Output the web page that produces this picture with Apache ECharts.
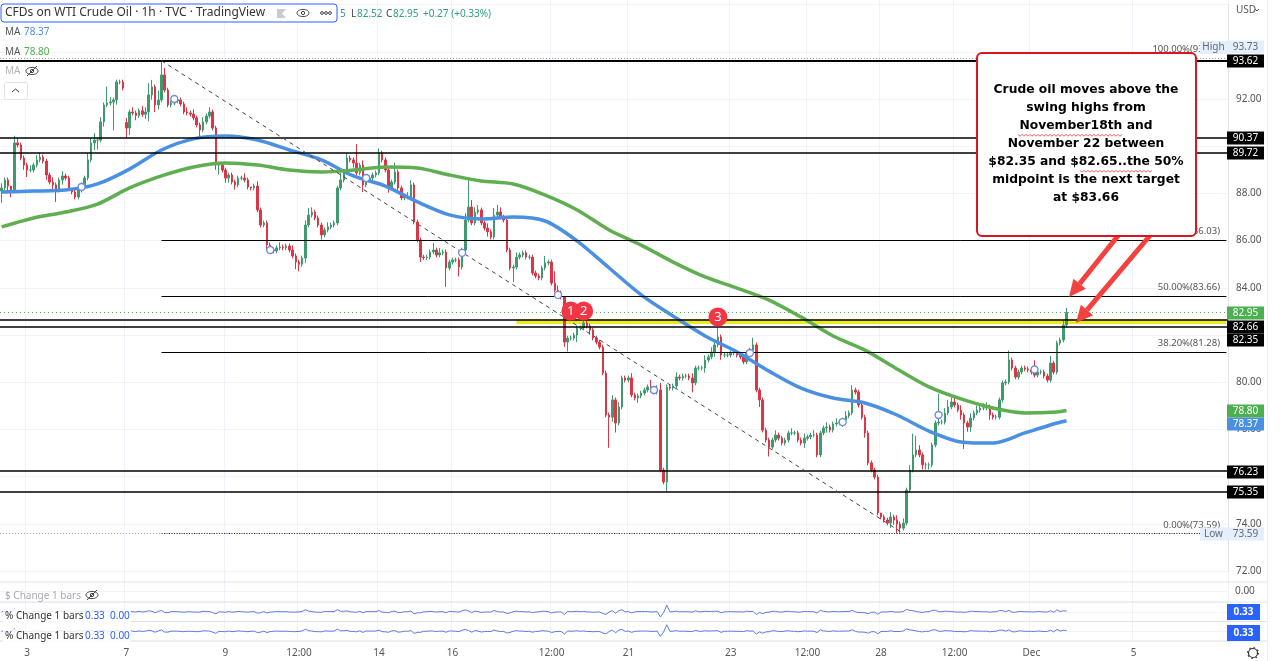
<!DOCTYPE html>
<html>
<head>
<meta charset="utf-8">
<style>html,body{margin:0;padding:0;background:#fff}#chart{width:1280px;height:661px}</style>
<script src="https://cdn.jsdelivr.net/npm/echarts@6/dist/echarts.min.js"></script>
</head>
<body>
<div id="chart"></div>
<script>
// hourly closes, 25 bars per row (each row is about 80px of chart)
var closes = [
88.23,88.57,88.31,88.14,90.14,90.05,89.5,89.2,88.99,88.99,89.2,89.42,89.54,89.37,88.78,88.48,88.36,88.14,88.57,88.74,88.65,88.23,88.06,87.85,88.14,
88.36,88.65,89.42,90.14,90.26,90.26,91.03,91.75,91.83,91.87,91.96,92.72,92.72,92.47,90.77,91.45,91.41,91.3,91.5,91.35,91.45,92.17,92.51,91.75,91.96,
93.02,92.38,91.75,91.83,91.92,91.96,91.79,91.45,91.41,91.36,91.2,90.9,90.69,91.03,91.28,91.45,90.77,89.2,89.2,88.99,88.65,88.78,88.48,88.36,88.65,
88.65,88.57,88.27,88.23,88.31,87.3,86.66,86.75,85.81,85.6,85.56,85.69,85.73,85.69,85.77,85.6,85.35,85.09,85.0,85.26,86.66,87.08,87.21,86.96,86.66,
86.24,86.45,86.58,86.66,86.75,88.23,88.57,88.91,89.5,89.42,89.29,88.87,89.2,88.36,88.57,88.65,88.78,88.87,89.71,89.42,88.99,88.23,88.48,88.91,88.23,
87.81,87.85,87.85,88.36,86.79,86.03,85.3,85.28,85.3,85.52,85.6,85.39,85.48,85.52,84.84,85.09,85.18,85.18,84.88,85.6,86.87,87.42,86.75,87.21,87.3,
86.75,86.53,86.37,86.15,87.08,87.21,87.0,86.87,85.6,84.84,84.88,85.3,85.39,85.48,85.3,85.3,84.63,84.5,84.42,84.84,85.05,85.09,84.2,83.9,83.78,
83.61,81.7,81.87,81.87,82.0,82.3,82.3,82.51,82.38,82.21,81.87,81.7,81.49,80.39,78.61,78.52,79.25,78.27,78.95,80.18,80.09,80.18,79.46,79.33,79.42,
79.54,79.67,79.8,79.67,79.58,79.67,76.28,75.77,79.8,79.75,79.84,80.22,80.18,80.26,80.26,80.18,79.97,80.6,80.6,80.6,80.94,81.07,81.28,81.58,81.92,
81.15,81.15,81.15,81.24,81.24,81.15,81.07,80.86,81.24,81.36,81.58,79.67,79.25,77.97,77.55,77.25,77.55,77.76,77.63,77.42,77.55,77.85,77.85,77.85,77.55,
77.42,77.63,77.68,77.76,77.76,76.92,77.85,78.06,78.1,77.97,78.23,78.27,78.31,78.4,78.57,78.7,79.67,79.58,79.03,78.52,77.85,76.58,76.28,75.98,74.46,
74.29,74.16,74.03,74.29,74.16,73.99,73.82,74.03,75.43,76.28,76.92,77.13,76.92,76.5,76.5,76.5,77.34,78.27,78.31,78.31,78.7,78.95,79.16,79.03,78.82,
78.61,78.27,78.1,78.48,78.7,78.82,78.91,78.91,78.95,78.61,78.52,78.52,79.25,79.97,80.01,80.94,80.6,80.22,80.43,80.6,80.56,80.52,80.43,80.3,80.43,
80.43,80.26,80.09,80.81,80.43,81.66,81.79,82.42,82.95
];
// wick lengths, in tenths of a dollar
var upperWicks = [
2,1,1,0,3,2,1,1,1,2,1,2,2,1,1,1,2,1,1,2,1,1,0,1,1,
1,1,3,2,3,1,2,1,7,2,1,1,1,1,2,1,2,1,1,2,2,5,3,1,4,
6,3,1,1,2,1,1,1,2,1,2,1,1,2,1,2,1,1,1,1,1,1,1,1,1,
1,2,1,0,1,2,1,1,1,1,1,1,2,1,1,1,2,1,1,1,2,3,2,1,1,
1,1,2,1,1,1,3,1,2,1,1,8,1,2,1,1,1,1,2,1,1,1,1,4,1,
1,1,2,2,1,1,1,1,1,1,3,1,2,1,1,1,1,1,1,1,3,12,3,2,2,
1,1,2,1,3,3,2,1,1,1,1,2,1,1,1,1,1,1,1,1,3,1,1,5,2,
1,0,1,1,1,1,1,2,1,1,1,1,1,1,1,1,2,1,2,1,1,1,2,1,1,
1,1,1,3,1,2,3,1,1,1,1,2,1,1,1,1,2,1,1,1,2,1,2,1,4,
1,1,1,1,1,1,1,1,1,1,3,1,1,1,1,1,1,2,1,1,1,1,2,1,1,
1,2,1,1,2,1,1,1,2,1,1,2,1,1,2,1,2,1,1,1,1,1,1,1,1,
0,1,1,2,1,2,1,2,1,2,9,6,2,1,1,1,1,1,12,1,2,3,2,2,1,
2,1,1,2,1,2,1,2,2,1,1,1,1,1,1,4,1,1,1,1,1,1,1,5,1,
1,1,1,3,1,1,1,2,2
];
var lowerWicks = [
5,2,3,3,1,1,1,2,3,1,1,1,1,1,2,1,2,5,1,2,1,1,1,1,1,
1,1,1,1,3,4,1,2,1,1,12,2,1,1,4,3,1,2,1,1,2,4,2,3,2,
1,1,1,1,1,1,1,1,1,1,1,1,3,1,1,1,1,2,4,1,2,2,1,2,1,
1,1,1,1,1,1,1,1,2,1,1,1,1,1,1,1,1,3,3,1,2,1,1,1,1,
2,1,1,1,1,1,1,1,1,1,2,1,1,3,1,1,1,1,1,1,1,2,1,1,1,
1,1,1,1,1,1,2,1,1,1,1,1,1,1,8,1,1,1,4,1,1,1,1,1,1,
1,1,2,1,1,1,1,1,1,1,6,1,1,1,1,1,1,1,1,1,1,1,1,1,1,
1,2,4,1,1,3,1,1,1,2,1,1,1,1,1,13,2,4,1,1,1,1,1,1,2,
1,1,1,1,1,1,1,1,4,1,1,1,1,1,1,1,4,1,1,1,2,1,1,2,1,
2,1,1,1,1,1,1,1,1,1,1,1,3,1,1,4,1,1,1,1,1,1,1,1,1,
1,2,1,1,1,1,1,1,2,1,1,1,1,2,1,1,1,1,1,1,2,1,1,1,1,
1,1,1,2,2,4,2,1,1,1,1,1,1,2,2,2,1,1,1,1,1,1,1,1,1,
2,11,2,2,1,1,1,1,1,2,1,1,1,1,1,1,1,1,1,1,1,1,1,1,1,
1,1,1,1,1,1,1,1,1
];
// bars that opened away from the previous close
var gapBars = [39];
var gapOpens = [91.0];

// moving averages, read every 10 bars
var maBars = [0,10,20,30,40,50,60,70,80,90,100,110,120,130,140,150,160,170,180,190,200,210,220,230,240,250,260,270,280,290,300,310,320,330,333];
var maBlue = [88.06,88.10,88.14,88.40,89.03,89.84,90.31,90.43,90.26,89.84,89.42,88.74,88.31,87.64,87.09,86.92,87.0,86.83,85.98,84.84,83.70,82.80,81.96,81.28,80.47,79.75,79.33,79.12,78.61,77.93,77.47,77.42,77.85,78.27,78.37];
var maGreen = [86.58,86.96,87.21,87.55,88.23,88.74,89.12,89.29,89.2,88.99,88.91,88.99,89.12,89.08,88.78,88.53,88.40,87.93,87.30,86.45,85.81,85.09,84.46,83.99,83.48,82.76,81.96,81.36,80.56,79.8,79.29,78.91,78.70,78.74,78.80];

// levels
var fullLevels = [93.62,90.37,89.72,82.66,82.35,76.23,75.35];
var fibLevels = [86.03,83.66,81.28];
var fibStartBar = 50;
var lastPrice = 82.95;
var fibHigh = 93.62, fibLow = 73.59, chartHigh = 93.73;
var trendBars = [50,282];
var zoneTop = 82.66, zoneBottom = 82.47, zoneStartBar = 161;

// hollow markers and numbered pins
var dotBars = [25,54,84,114,144,174,204,234,263,293,323];
var dotPrices = [88.27,92.0,85.6,88.65,85.48,83.7,79.67,81.24,78.31,78.61,80.54];
var pinBars = [178,182,224];
var pinPrices = [83.02,83.02,82.76];
var pinNames = ['1','2','3'];

// axes
var slots = 384;
var tickBars = [8,39,70,93,118,141,172,196,228,252,275,298,322,354];
var tickLabels = ['3','7','9','12:00','14','16','12:00','21','23','12:00','28','12:00','Dec','5'];
var priceTicks = [92,88,86,84,80,78,74,72];

var cats = [];
for (var i = 0; i < slots; i++) {
    var t = tickBars.indexOf(i);
    cats.push(t >= 0 ? tickLabels[t] : '');
}
function isTick(i) { return tickBars.indexOf(i) >= 0; }

var candles = closes.map(function (c, i) {
    var g = gapBars.indexOf(i);
    var o = g >= 0 ? gapOpens[g] : (i ? closes[i - 1] : 88.1);
    var h = Math.max(o, c) + upperWicks[i] / 10;
    var l = Math.min(o, c) - lowerWicks[i] / 10;
    return [o, c, l, h];
});
var pct = closes.map(function (c, i) {
    return i ? (c - closes[i - 1]) / closes[i - 1] * 100 : 0;
});
function pairs(xs, ys) { return xs.map(function (x, i) { return [x, ys[i]]; }); }

var FONT = '"Noto Sans", sans-serif';
var GREY = '#555';
var gfx = [];
function txt(x, y, s, fill, size, align, weight, z) {
    gfx.push({ type: 'text', z: z || 50, silent: true, style: {
        x: x, y: y, text: s, fill: fill, textAlign: align || 'left', textVerticalAlign: 'middle',
        font: (weight || 'normal') + ' ' + (size || 10) + 'px ' + FONT
    }});
}
function box(x, y, w, h, fill, stroke, r, z, lw) {
    gfx.push({ type: 'rect', z: z || 49, silent: true, shape: { x: x, y: y, width: w, height: h, r: r || 0 },
        style: { fill: fill, stroke: stroke || null, lineWidth: lw || 1 } });
}
function hline(x1, x2, y, c) {
    gfx.push({ type: 'line', z: 5, silent: true, shape: { x1: x1, y1: y, x2: x2, y2: y }, style: { stroke: c, lineWidth: 1 } });
}
function eye(x, y, strike, c) {
    gfx.push({ type: 'ellipse', z: 50, silent: true, shape: { cx: x, cy: y, rx: 6, ry: 3.6 }, style: { fill: 'none', stroke: c, lineWidth: 1 } });
    gfx.push({ type: 'circle', z: 50, silent: true, shape: { cx: x, cy: y, r: 1.7 }, style: { fill: 'none', stroke: c, lineWidth: 1 } });
    if (strike) gfx.push({ type: 'line', z: 50, silent: true, shape: { x1: x - 5, y1: y + 5, x2: x + 5, y2: y - 5 }, style: { stroke: c, lineWidth: 1 } });
}
function arrow(x1, y1, x2, y2) {
    var a = Math.atan2(y2 - y1, x2 - x1), L = 17, W = 8;
    var bx = x2 - L * Math.cos(a), by = y2 - L * Math.sin(a);
    gfx.push({ type: 'line', z: 40, silent: true, shape: { x1: x1, y1: y1, x2: bx, y2: by }, style: { stroke: '#f4413f', lineWidth: 5 } });
    gfx.push({ type: 'polygon', z: 40, silent: true, shape: { points: [[x2, y2],
        [bx - W * Math.sin(a), by + W * Math.cos(a)], [bx + W * Math.sin(a), by - W * Math.cos(a)]] }, style: { fill: '#f4413f' } });
}
function wavy(x1, x2, y) {
    var pts = [];
    for (var x = x1, k = 0; x <= x2; x += 2, k++) pts.push([x, y + (k % 2 ? 1.2 : -0.6)]);
    gfx.push({ type: 'polyline', z: 62, silent: true, shape: { points: pts }, style: { fill: 'none', stroke: '#e0403c', lineWidth: 0.8 } });
}

// header
box(1, 4, 336, 18, '#fff', '#2962ff', 3, 49);
txt(5, 13, 'CFDs on WTI Crude Oil · 1h · TVC · TradingView', '#333', 12);
gfx.push({ type: 'polygon', z: 50, silent: true, shape: { points: [[277, 9], [286, 9], [282, 13.5], [286, 18], [277, 18]] }, style: { fill: '#c8cbd2' } });
eye(303, 13, false, '#444');
[322, 326, 330].forEach(function (x) {
    gfx.push({ type: 'circle', z: 50, silent: true, shape: { cx: x, cy: 13, r: 1.4 }, style: { fill: 'none', stroke: '#444', lineWidth: 1 } });
});
var tvGreen = '#2f9e83';
txt(340, 14, '5', tvGreen, 10);
txt(351, 14, 'L', '#444', 10);
txt(357, 14, '82.52', tvGreen, 10);
txt(386, 14, 'C', '#444', 10);
txt(393, 14, '82.95', tvGreen, 10);
txt(423, 14, '+0.27 (+0.33%)', tvGreen, 10);
txt(5, 32, 'MA', GREY, 10);
txt(24, 32, '78.37', '#4a90e2', 10);
txt(5, 52, 'MA', GREY, 10);
txt(24, 52, '78.80', '#4caf50', 10);
txt(5, 71, 'MA', '#b0b3ba', 10);
eye(32, 71, true, '#444');
box(4.5, 82.5, 23, 17, '#fff', '#e0e3eb', 2);
gfx.push({ type: 'polyline', z: 50, silent: true, shape: { points: [[12, 92], [15.5, 89], [19, 92]] }, style: { fill: 'none', stroke: '#333', lineWidth: 1 } });

// pane legends and separators
hline(0, 1267, 582, '#e0e3eb');
hline(0, 1267, 602, '#e0e3eb');
hline(0, 1267, 621.5, '#e0e3eb');
hline(0, 1267, 641, '#e0e3eb');
hline(0, 1228, 591.5, '#f0f3fa');
txt(5, 596, '$ Change 1 bars', '#a8abb2', 10);
eye(92, 595, true, '#444');
[616, 636].forEach(function (y) {
    box(3, y - 7, 128, 14, 'rgba(255,255,255,0.85)', null, 0, 48);
    txt(5, y, '% Change 1 bars', '#333', 10);
    txt(85, y, '0.33', '#2962ff', 10);
    txt(110, y, '0.00', '#2962ff', 10);
});

// fib labels, partly hidden by the note and the tags
txt(1220, 49, '100.00%(93.62)', GREY, 9.5, 'right');
txt(1220, 231, '61.80%(86.03)', GREY, 9.5, 'right');
txt(1220, 287, '50.00%(83.66)', GREY, 9.5, 'right');
txt(1220, 343, '38.20%(81.28)', GREY, 9.5, 'right');
txt(1220, 525, '0.00%(73.59)', GREY, 9.5, 'right');

// right-hand price tags
function tag(y, s, bg, fg, w) {
    box(1227, y - 6.5, w || 37, 13, bg, null, 0, 52);
    txt(1245.5, y, s, fg, 10, 'center', 'normal', 53);
}
var tagPale = '#e3effd';
box(1200, 41, 27, 13, tagPale, null, 0, 52);
txt(1213.5, 47, 'High', '#667', 10, 'center', 'normal', 53);
tag(47, '93.73', tagPale, '#667');
tag(61, '93.62', '#000', '#fff');
tag(138, '90.37', '#000', '#fff');
tag(153, '89.72', '#000', '#fff');
tag(313, '82.95', '#4caf50', '#fff');
tag(327, '82.66', '#000', '#fff');
tag(340, '82.35', '#000', '#fff');
tag(411, '78.80', '#4caf50', '#fff');
tag(424, '78.37', '#4a90e2', '#fff');
tag(472, '76.23', '#000', '#fff');
tag(492, '75.35', '#000', '#fff');
box(1200, 527.5, 27, 13, tagPale, null, 0, 52);
txt(1213.5, 534, 'Low', '#667', 10, 'center', 'normal', 53);
tag(534, '73.59', tagPale, '#667');
txt(1235, 591, '0.00', GREY, 10);
box(1227, 604, 33, 16, '#2962ff', null, 0, 52);
txt(1243.5, 612, '0.33', '#fff', 10, 'center', 'bold', 53);
box(1227, 625, 33, 16, '#2962ff', null, 0, 52);
txt(1243.5, 633, '0.33', '#fff', 10, 'center', 'bold', 53);
txt(1236, 10, 'USD', GREY, 10);
gfx.push({ type: 'polyline', z: 50, silent: true, shape: { points: [[1255, 9], [1257, 11], [1259, 9]] }, style: { fill: 'none', stroke: GREY, lineWidth: 1 } });
gfx.push({ type: 'circle', z: 50, silent: true, shape: { cx: 1253, cy: 653, r: 4.5 }, style: { fill: 'none', stroke: '#333', lineWidth: 1.2 } });
gfx.push({ type: 'circle', z: 50, silent: true, shape: { cx: 1253, cy: 653, r: 5.5 }, style: { fill: 'none', stroke: '#333', lineWidth: 1.2, lineDash: [1.5, 2.8] } });
gfx.push({ type: 'line', z: 5, silent: true, shape: { x1: 1267.5, y1: 0, x2: 1267.5, y2: 661 }, style: { stroke: '#eceef2', lineWidth: 1 } });

// note with arrows
arrow(1121, 232, 1069, 297);
arrow(1153, 232, 1076, 323);
box(977, 53, 219, 183, '#fff', '#d8161e', 5, 60, 2);
var noteLines = ['Crude oil moves above the', 'swing highs from', 'November18th and', 'November 22 between',
    '$82.35 and $82.65..the 50%', 'midpoint is the next target', 'at $83.66'];
noteLines.forEach(function (s, i) {
    gfx.push({ type: 'text', z: 61, silent: true, style: { x: 1086, y: 90 + i * 18, text: s, fill: '#000', textAlign: 'center', textVerticalAlign: 'middle',
        font: 'bold 12.3px "DejaVu Sans", sans-serif' } });
});
wavy(1018, 1123, 135);
wavy(1080, 1152, 171);

var levelLines = [];
fullLevels.forEach(function (p) {
    levelLines.push({ yAxis: p, lineStyle: { color: '#000', width: p > 93 ? 2 : 1.6, type: 'solid', opacity: 1 } });
});
fibLevels.forEach(function (p) {
    levelLines.push([{ coord: [fibStartBar, p], lineStyle: { color: '#000', width: 1, type: 'solid' } }, { coord: [slots - 1, p] }]);
});
levelLines.push({ yAxis: lastPrice, lineStyle: { color: '#4caf50', width: 1, type: [1, 3] } });
levelLines.push({ yAxis: chartHigh, lineStyle: { color: '#9598a1', width: 1, type: [1, 2] } });
levelLines.push({ yAxis: fibLow, lineStyle: { color: '#b0b3ba', width: 1, type: [1, 2] } });
levelLines.push([{ coord: [fibStartBar, fibLow], lineStyle: { color: '#333', width: 1.2, type: [1, 1.5] } }, { coord: [slots - 1, fibLow] }]);
levelLines.push([{ coord: [trendBars[0], fibHigh], lineStyle: { color: '#444', width: 1, type: [4, 4] } }, { coord: [trendBars[1], fibLow] }]);

var option = {
    animation: false,
    backgroundColor: '#fff',
    grid: [
        { left: 0, top: 0, width: 1228, height: 641 },
        { left: 0, top: 4.6, width: 1228, height: 566.4 },
        { left: 0, top: 602, width: 1228, height: 19.5 },
        { left: 0, top: 621.5, width: 1228, height: 19.5 }
    ],
    xAxis: [
        { type: 'category', gridIndex: 0, data: cats, axisTick: { show: false },
          axisLine: { show: false },
          axisLabel: { interval: function (i) { return isTick(i); }, color: GREY, fontSize: 10, fontFamily: FONT, margin: 7 },
          splitLine: { show: true, interval: function (i) { return isTick(i); }, lineStyle: { color: '#f0f3fa' } } },
        { type: 'category', gridIndex: 1, data: cats, show: false },
        { type: 'category', gridIndex: 2, data: cats, show: false },
        { type: 'category', gridIndex: 3, data: cats, show: false }
    ],
    yAxis: [
        { type: 'value', gridIndex: 0, min: 0, max: 1, show: false },
        { type: 'value', gridIndex: 1, position: 'right', min: 72, max: 96, interval: 2, scale: true,
          axisLine: { show: true, lineStyle: { color: '#e0e3eb' } }, axisTick: { show: false },
          axisLabel: { color: GREY, fontSize: 10, fontFamily: FONT, margin: 8,
              formatter: function (v) { return priceTicks.indexOf(v) >= 0 ? v.toFixed(2) : ''; } },
          splitLine: { lineStyle: { color: '#f0f3fa' } } },
        { type: 'value', gridIndex: 2, min: -8, max: 8, interval: 8, show: true, axisLine: { show: false }, axisTick: { show: false },
          axisLabel: { show: false }, splitLine: { lineStyle: { color: '#f0f3fa' } } },
        { type: 'value', gridIndex: 3, min: -8, max: 8, interval: 8, show: true, axisLine: { show: false }, axisTick: { show: false },
          axisLabel: { show: false }, splitLine: { lineStyle: { color: '#f0f3fa' } } }
    ],
    series: [
        { name: 'levels', type: 'line', xAxisIndex: 1, yAxisIndex: 1, data: [], z: 1, silent: true,
          markLine: { silent: true, symbol: 'none', label: { show: false }, animation: false, data: levelLines },
          markArea: { silent: true, itemStyle: { color: '#eaea1e' }, data: [[{ coord: [zoneStartBar, zoneTop] }, { coord: [slots - 1, zoneBottom] }]] } },
        { name: 'WTI', type: 'candlestick', xAxisIndex: 1, yAxisIndex: 1, data: candles, barWidth: 2, z: 3,
          itemStyle: { color: '#3f9a6e', color0: '#dc3545', borderColor: '#3f9a6e', borderColor0: '#dc3545', borderWidth: 1 } },
        { name: 'MA blue', type: 'line', xAxisIndex: 1, yAxisIndex: 1, data: pairs(maBars, maBlue), smooth: 0.3, showSymbol: false, z: 4,
          lineStyle: { color: '#4a90e2', width: 3.5 } },
        { name: 'MA green', type: 'line', xAxisIndex: 1, yAxisIndex: 1, data: pairs(maBars, maGreen), smooth: 0.3, showSymbol: false, z: 4,
          lineStyle: { color: '#5fae50', width: 3.5 } },
        { name: 'dots', type: 'scatter', xAxisIndex: 1, yAxisIndex: 1, data: pairs(dotBars, dotPrices), symbolSize: 7, z: 5,
          itemStyle: { color: '#fff', borderColor: '#6f8ae6', borderWidth: 1.4, opacity: 1 } },
        { name: 'pins', type: 'scatter', xAxisIndex: 1, yAxisIndex: 1, data: pairs(pinBars, pinPrices), symbolSize: 19, z: 6,
          itemStyle: { color: '#f23645', opacity: 1 },
          label: { show: true, position: 'inside', color: '#fff', fontSize: 13, fontFamily: FONT,
              formatter: function (p) { return pinNames[p.dataIndex]; } } },
        { name: 'pct 1', type: 'line', xAxisIndex: 2, yAxisIndex: 2, data: pct, showSymbol: false, lineStyle: { color: '#5b7be0', width: 1 } },
        { name: 'pct 2', type: 'line', xAxisIndex: 3, yAxisIndex: 3, data: pct, showSymbol: false, lineStyle: { color: '#5b7be0', width: 1 } }
    ],
    graphic: gfx
};
var chart = echarts.init(document.getElementById('chart'));
chart.setOption(option);
</script>
</body>
</html>
